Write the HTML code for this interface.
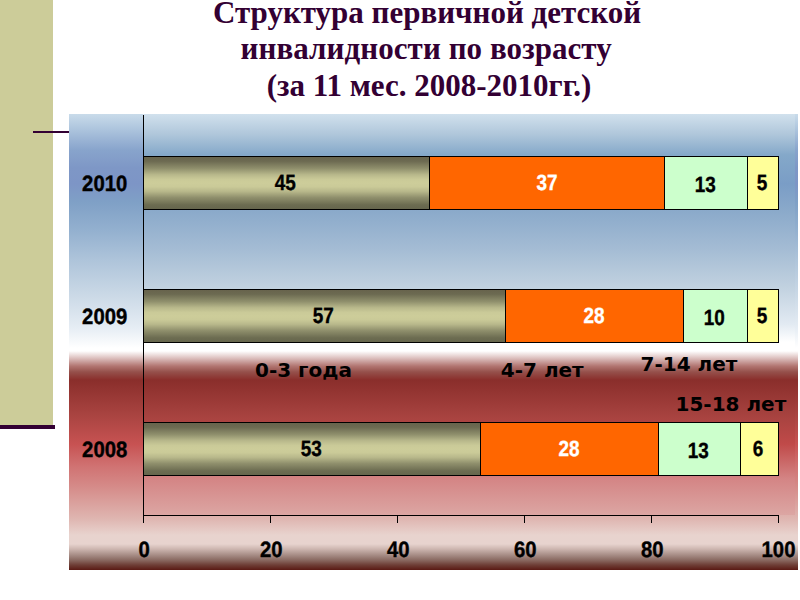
<!DOCTYPE html>
<html lang="ru">
<head>
<meta charset="utf-8">
<title>Структура первичной детской инвалидности по возрасту</title>
<style>
html,body{margin:0;padding:0;background:#fff;}
body{width:800px;height:600px;position:relative;overflow:hidden;font-family:"Liberation Sans",sans-serif;}
.abs{position:absolute;}
#side{left:0;top:0;width:53px;height:425px;background:#cccc99;}
#sideline{left:0;top:425px;width:55px;height:4px;background:#330033;}
#tick{left:33px;top:131px;width:36px;height:2px;background:#330033;}
#title{left:0;top:0;width:800px;height:110px;color:#330033;
  font:bold 31px/36.6px "Liberation Serif",serif;white-space:nowrap;}
.tl{position:absolute;white-space:nowrap;}
#chart{left:69px;top:114px;width:729px;height:456px;
  background:linear-gradient(to bottom,
   #c9dbea 0px,
   #a8c0db 18px,
   #88a4cc 36px,
   #7e97c6 54px,
   #7d95c6 70px,
   #7fa0c6 88px,
   #93b0cf 116px,
   #aec4da 146px,
   #c8d7e5 178px,
   #e6edf4 214px,
   #ffffff 234px,
   #ffffff 237px,
   #ecdcdb 241px,
   #d8b8b6 245px,
   #b27672 252px,
   #95504b 258px,
   #8a2e2b 266px,
   #ab4542 303px,
   #c75252 330px,
   #d07272 352px,
   #d58a88 372px,
   #dfb6b1 405px,
   #e8d3ce 421px,
   #e7d3ce 430px,
   #cdb6b0 435px,
   #a78d86 441px,
   #8a6a62 446px,
   #6e3e36 451px,
   #5a1a14 456px);}
#plot{left:143px;top:114px;width:652px;height:401px;
  background:linear-gradient(to bottom,
   #d1e1ed 0px,
   #b0c7db 20px,
   #84a8c9 41px,
   #7a9dc6 70px,
   #8aa9ca 96px,
   #a4bcd4 135px,
   #c2d2e0 174px,
   #e2eaf2 210px,
   #ffffff 228px,
   #ffffff 237px,
   #ecdcdb 241px,
   #d8b8b6 245px,
   #b27672 252px,
   #95504b 258px,
   #8a2e2b 266px,
   #a84340 303px,
   #c04a49 330px,
   #d48585 365px,
   #dca6a3 401px);}
.ax{background:#000;}
.bar{height:54px;box-sizing:border-box;}
.seg{position:absolute;top:0;height:54px;box-sizing:border-box;border:1px solid #000;
  font:bold 22px/52px "Liberation Sans",sans-serif;text-align:center;color:#000;text-rendering:geometricPrecision;}
.seg span{display:inline-block;transform:translate(-1px,0) scaleX(.86);-webkit-text-stroke:.35px currentColor;}
.s1{background:linear-gradient(to bottom,#68644d 0%,#6c6a51 8%,#8f8f6c 22%,#b8b88b 34%,#caca98 43%,#cdcd9a 50%,#caca98 57%,#b8b88b 66%,#8f8f6c 78%,#6c6c51 92%,#66664d 100%);}
.s2{background:#ff6600;color:#fff;}
.s3{background:#ccffcc;}
.s4{background:#ffff99;}
.s3 span{transform:translate(-1px,2px) scaleX(.86);}
.s2 span{transform:translate(-.2px,0) scaleX(.86);}
.ylab,.xlab{font:bold 22.2px/24px "Liberation Sans",sans-serif;color:#000;text-align:center;white-space:nowrap;text-rendering:geometricPrecision;}
.ylab span,.xlab span{display:inline-block;transform:scaleX(.915);-webkit-text-stroke:.4px currentColor;}
.leg{font:bold 20px/24px "DejaVu Sans",sans-serif;color:#000;white-space:nowrap;}
</style>
</head>
<body>
<div id="side" class="abs"></div>
<div id="sideline" class="abs"></div>
<div id="title" class="abs">
<div class="tl" style="left:213px;top:-5.3px;">Структура первичной детской</div>
<div class="tl" style="left:240.6px;top:30.7px;letter-spacing:.07px;">инвалидности по возрасту</div>
<div class="tl" style="left:266.7px;top:68px;">(за 11 мес. 2008-2010гг.)</div>
</div>
<div id="chart" class="abs"></div>
<div id="plot" class="abs"></div>
<div id="tick" class="abs"></div>

<!-- axes -->
<div class="abs ax" style="left:143px;top:115px;width:1px;height:408px;"></div>
<div class="abs ax" style="left:143px;top:515px;width:636px;height:1px;"></div>
<div class="abs ax" style="left:270px;top:515px;width:1px;height:8px;"></div>
<div class="abs ax" style="left:397px;top:515px;width:1px;height:8px;"></div>
<div class="abs ax" style="left:524px;top:515px;width:1px;height:8px;"></div>
<div class="abs ax" style="left:651px;top:515px;width:1px;height:8px;"></div>
<div class="abs ax" style="left:778px;top:515px;width:1px;height:8px;"></div>

<!-- bars -->
<div class="abs bar" style="left:143px;top:156px;width:636px;">
  <div class="seg s1" style="left:0;width:287px;"><span>45</span></div>
  <div class="seg s2" style="left:286px;width:236px;"><span>37</span></div>
  <div class="seg s3" style="left:521px;width:84px;"><span>13</span></div>
  <div class="seg s4" style="left:604px;width:32px;"><span>5</span></div>
</div>
<div class="abs bar" style="left:143px;top:289px;width:636px;">
  <div class="seg s1" style="left:0;width:363px;"><span>57</span></div>
  <div class="seg s2" style="left:362px;width:179px;"><span>28</span></div>
  <div class="seg s3" style="left:540px;width:65px;"><span>10</span></div>
  <div class="seg s4" style="left:604px;width:32px;"><span>5</span></div>
</div>
<div class="abs bar" style="left:143px;top:422px;width:636px;">
  <div class="seg s1" style="left:0;width:338px;"><span>53</span></div>
  <div class="seg s2" style="left:337px;width:179px;"><span>28</span></div>
  <div class="seg s3" style="left:515px;width:83px;"><span>13</span></div>
  <div class="seg s4" style="left:597px;width:39px;"><span>6</span></div>
</div>

<!-- y labels -->
<div class="abs ylab" style="left:75px;top:172.3px;width:60px;"><span>2010</span></div>
<div class="abs ylab" style="left:75px;top:305.3px;width:60px;"><span>2009</span></div>
<div class="abs ylab" style="left:75px;top:438.3px;width:60px;"><span>2008</span></div>

<!-- x labels -->
<div class="abs xlab" style="left:114px;top:538px;width:60px;"><span>0</span></div>
<div class="abs xlab" style="left:241px;top:538px;width:60px;"><span>20</span></div>
<div class="abs xlab" style="left:368px;top:538px;width:60px;"><span>40</span></div>
<div class="abs xlab" style="left:495px;top:538px;width:60px;"><span>60</span></div>
<div class="abs xlab" style="left:622px;top:538px;width:60px;"><span>80</span></div>
<div class="abs xlab" style="left:749px;top:538px;width:60px;"><span>100</span></div>

<!-- legend labels -->
<div class="abs leg" style="left:255px;top:357.5px;">0-3 года</div>
<div class="abs leg" style="left:500.8px;top:357.5px;">4-7 лет</div>
<div class="abs leg" style="left:640.5px;top:351.5px;">7-14 лет</div>
<div class="abs leg" style="left:675.5px;top:391.5px;">15-18 лет</div>
</body>
</html>
